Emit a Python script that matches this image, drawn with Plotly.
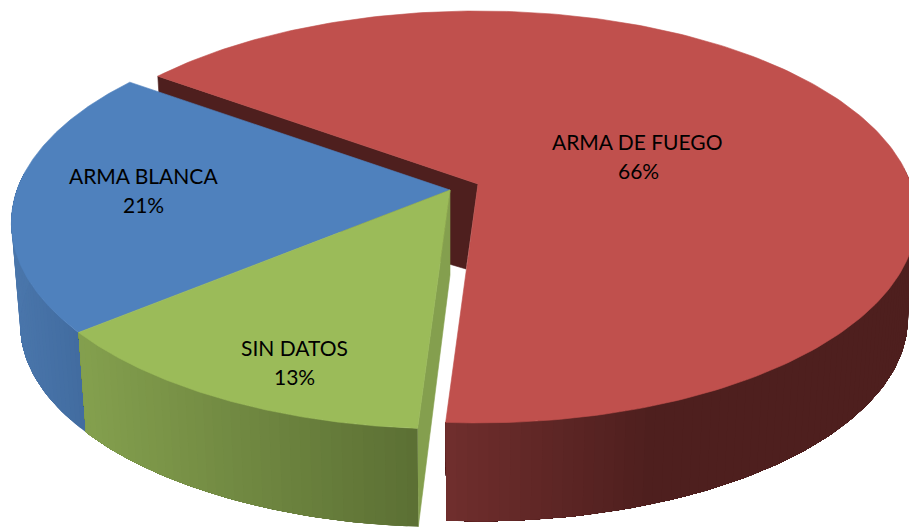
import math
import plotly.graph_objects as go

# Data, clockwise from the start angle
categories = ["ARMA DE FUEGO", "SIN DATOS", "ARMA BLANCA"]
values = [66, 13, 21]

# Styling per slice
top_colors = ["#C0504D", "#9BBB59", "#4F81BD"]
wall_colors = ["#4E1F1E", "#849F4E", "#41699E"]
side_left = [(112, 46, 45), (132, 160, 78), (74, 118, 171)]
side_right = [(78, 31, 30), (92, 112, 52), (65, 107, 159)]
side_x_span = [(445, 650), (77, 413), (10, 85)]
apex = [(478, 184), (450, 190), (450, 190)]
label_xy = [((637, 141), (638, 170)), ((294, 347), (294, 376)), ((143, 175), (143, 204))]

# Projection of the disc (slight perspective)
START_DEG = 144.0
A, S, K = 433.0, 200.7, 0.16
H, SX, SY = 102.0, 0.98, 0.985
APEX_DEPTH = 85
APEX_SHIFT = [-12, 0, 0]
FRONT_SIN = 0.1  # rim segments further back than this stay hidden


def rim(deg):
    t = math.radians(deg)
    X, Y = math.cos(t), math.sin(t)
    w = 1 + K * Y
    return A * X / w, -S * Y / w


def rim_top(c, deg):
    dx, dy = rim(deg)
    return c[0] + dx, c[1] + dy


def rim_bottom(c, deg):
    dx, dy = rim(deg)
    return c[0] + SX * dx, c[1] + H + SY * dy


def sweep(a, b, n):
    return [a + (b - a) * i / n for i in range(n + 1)]


def poly(pts, color, lw=0.6):
    xs = [p[0] for p in pts] + [pts[0][0]]
    ys = [p[1] for p in pts] + [pts[0][1]]
    return go.Scatter(x=xs, y=ys, mode="lines", fill="toself", fillcolor=color,
                      line=dict(color=color, width=lw), hoverinfo="skip", showlegend=False)


def mix(i, x):
    lo, hi = side_x_span[i]
    t = min(1, max(0, (x - lo) / (hi - lo)))
    rgb = [round(side_left[i][k] + (side_right[i][k] - side_left[i][k]) * t) for k in range(3)]
    return "rgb({},{},{})".format(*rgb)


total = sum(values)
spans = []
a = START_DEG
for v in values:
    b = a - 360 * v / total
    spans.append((a, b))
    a = b

fig = go.Figure()


def wall(i, deg):
    c = apex[i]
    return poly([c, rim_top(c, deg), rim_bottom(c, deg),
                 (c[0] + APEX_SHIFT[i], c[1] + APEX_DEPTH)], wall_colors[i])


def side(i):
    c = apex[i]
    a0, a1 = spans[i]
    steps = max(30, int(abs(a1 - a0) / 1.2))
    ds = [d for d in sweep(a0, a1, steps) if math.sin(math.radians(d)) < FRONT_SIN]
    # each band reaches to the end of the visible rim, so no seam can open between bands
    for k in range(len(ds) - 1):
        rest = ds[k:]
        pts = [rim_top(c, d) for d in rest] + [rim_bottom(c, d) for d in reversed(rest)]
        mid = (rim_top(c, ds[k])[0] + rim_top(c, ds[k + 1])[0]) / 2
        fig.add_trace(poly(pts, mix(i, mid), lw=0))


def top(i):
    c = apex[i]
    a0, a1 = spans[i]
    arc = [rim_top(c, d) for d in sweep(a0, a1, 240)]
    fig.add_trace(poly([c] + arc, top_colors[i]))


# Painter's order: back slice first, green wall over the red wall
fig.add_trace(wall(0, spans[0][0]))
side(0)
top(0)
side(2)
top(2)
fig.add_trace(wall(1, spans[1][0]))
side(1)
top(1)

for name, v, (p1, p2) in zip(categories, values, label_xy):
    for txt, (x, y) in ((name, p1), (f"{v}%", p2)):
        fig.add_annotation(x=x, y=y, text=txt, showarrow=False, xanchor="center", yanchor="middle",
                           font=dict(family="Lato", size=21, color="#000000"))

fig.update_layout(
    width=909, height=527, autosize=False,
    margin=dict(l=0, r=0, t=0, b=0),
    paper_bgcolor="white", plot_bgcolor="white", showlegend=False,
    xaxis=dict(range=[0, 909], visible=False, fixedrange=True),
    yaxis=dict(range=[527, 0], visible=False, fixedrange=True),
)
fig.write_html("out.html", config={"displayModeBar": False},
               post_script="document.body.style.margin='0';document.body.style.overflow='hidden';")
